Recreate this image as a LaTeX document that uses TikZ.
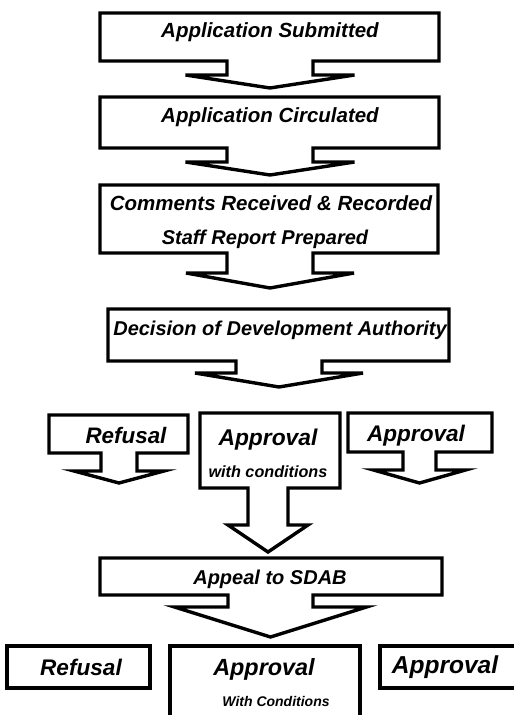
\documentclass[tikz,border=0pt]{standalone}
\usepackage{fontspec}
\setmainfont{Liberation Sans}
\usetikzlibrary{calc}

% Box with a short stem and a down-pointing arrowhead, drawn as one outline.
% #1 left, #2 top, #3 right, #4 box bottom, #5 stem left, #6 stem right,
% #7 wing level, #8 wing half-width, #9 tip level
\newcommand\downcallout[9]{%
  \pgfmathsetmacro\cx{(#5+#6)/2}%
  \pgfmathsetmacro\wl{\cx-#8}%
  \pgfmathsetmacro\wr{\cx+#8}%
  \draw[outline] (#1,#2) -- (#3,#2) -- (#3,#4) -- (#6,#4) -- (#6,#7)
    -- (\wr,#7) -- (\cx,#9) -- (\wl,#7) -- (#5,#7) -- (#5,#4) -- (#1,#4) -- cycle;%
}

\tikzset{
  outline/.style={line width=3.4pt, line join=miter, draw=black, fill=white},
  label/.style={inner sep=0pt, font=\bfseries\itshape\fontsize{#1}{#1}\selectfont},
  label/.default=20.5,
}

\begin{document}
\begin{tikzpicture}[x=1pt, y=-1pt]
  \clip (0,0) rectangle (514,715);
  \fill[white] (0,0) rectangle (514,715);

  % main chain
  \downcallout{100}{13}{439}{61}{227}{313}{75}{84.5}{88}
  \node[label] (submitted) at (270,32) {Application Submitted};

  \downcallout{100}{97}{439}{148}{227}{313}{162}{84.5}{175}
  \node[label] (circulated) at (270,117) {Application Circulated};

  \downcallout{100}{185}{438}{253}{227}{313}{273}{84}{288}
  \node[label] (comments) at (271,203) {Comments Received \& Recorded};
  \node[label=20] (report) at (265,239) {Staff Report Prepared};

  \downcallout{108}{309}{449}{361}{236}{322}{373}{84}{387}
  \node[label=20] (decision) at (280,330) {Decision of Development Authority};

  % outcomes of the decision
  \downcallout{49}{415}{188}{453}{101}{137}{471}{45}{483}
  \node[label=22.4] (refusal) at (126,435) {Refusal};

  \downcallout{200}{413}{340}{488}{248}{288}{525}{40}{552}
  \node[label=22.8] (approvalwc) at (268,440) {Approval};
  \node[label=16.2] (withcond) at (268,472) {with conditions};

  \downcallout{348}{413}{492}{452}{403}{436}{470}{46}{483}
  \node[label=22.6] (approval) at (416,436) {Approval};

  % appeal
  \downcallout{100}{558}{442}{595}{228}{313}{607}{96}{637}
  \node[label=20] (appeal) at (270,579) {Appeal to SDAB};

  % outcomes of the appeal
  \draw[outline] (7,646) rectangle (150,688);
  \node[label=22.6] (srefusal) at (81,667) {Refusal};
  \draw[outline] (170,646) rectangle (360,730);
  \node[label=23.4] (sapprovalwc) at (264,669) {Approval};
  \node[label=14] (swithcond) at (276,701) {With Conditions};
  \draw[outline] (380,646) rectangle (530,688);
  \node[label=24.5] (sapproval) at (445,667) {Approval};
\end{tikzpicture}
\end{document}
